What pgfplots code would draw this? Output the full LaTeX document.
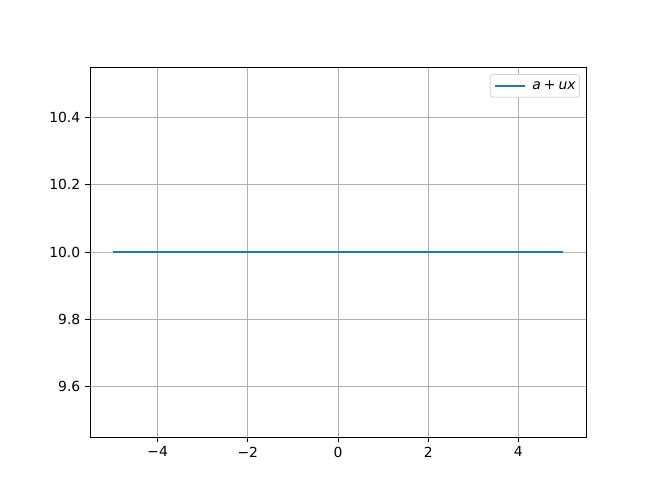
\documentclass[border=0pt]{standalone}
\usepackage{fontspec}
\setmainfont{DejaVu Sans}
\usepackage{pgfplots}
\pgfplotsset{compat=1.18}
\definecolor{mplblue}{HTML}{1F77B4}
\definecolor{gridgray}{HTML}{B0B0B0}
\definecolor{legedge}{HTML}{D6D6D6}
\begin{document}
\fontsize{13.9}{16}\selectfont
\begin{tikzpicture}
\begin{axis}[
  at={(0pt,0pt)}, anchor=south west,
  scale only axis,
  width=496pt,
  height=370pt,
  xmin=-5.5, xmax=5.5,
  ymin=9.45, ymax=10.55,
  xtick={-4,-2,0,2,4},
  xticklabels={−4,−2,0,2,4},
  ytick={9.6,9.8,10.0,10.2,10.4},
  yticklabels={9.6,9.8,10.0,10.2,10.4},
  grid=major,
  major grid style={gridgray, line width=0.9pt},
  axis line style={line width=0.9pt},
  tick style={black, line width=0.9pt},
  tick align=outside,
  major tick length=4.9pt,
  tick pos=left,
  ticklabel style={font=\fontsize{13.9}{16}\selectfont},
  legend style={at={(1,1)}, xshift=-6pt, yshift=-7pt, anchor=north east,
    draw=legedge, rounded corners=3pt, line width=0.9pt,
    font=\fontsize{13.9}{16}\selectfont, inner xsep=2pt, inner ysep=4pt},
  legend cell align=left,
  legend image post style={line width=2.08pt},
  legend image code/.code={\draw[#1] (2pt,0pt) -- (32pt,0pt); \path (0pt,0pt) (36pt,0pt);},
]
\addplot[mplblue, line width=2.08pt] coordinates {(-5,10) (5,10)};
\addlegendentry{\itshape a\upshape\hspace{3pt}+\hspace{3pt}\itshape ux}
\end{axis}
\path (-90pt,-62pt) rectangle (570pt,437pt);
\end{tikzpicture}
\end{document}
